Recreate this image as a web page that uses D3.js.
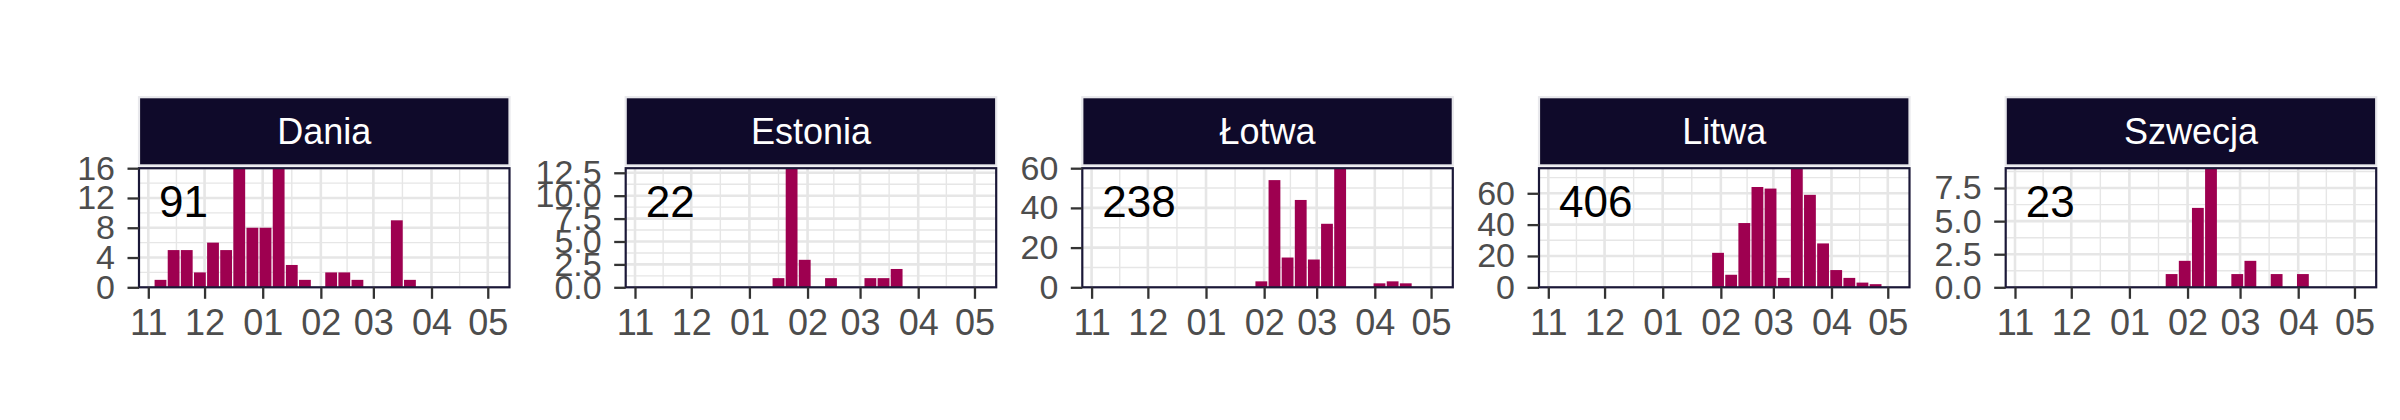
<!DOCTYPE html>
<html><head><meta charset="utf-8">
<script src="https://cdn.jsdelivr.net/npm/d3@7/dist/d3.min.js"></script>
<style>
html,body{margin:0;padding:0;background:#fff;}
svg text{font-family:"Liberation Sans", Arial, Helvetica, sans-serif;}
</style></head><body>
<svg id="chart" width="2400" height="420"></svg>
<script>
// ---- data ----
const countries = ["Dania", "Estonia", "Łotwa", "Litwa", "Szwecja"];
const totals = [91, 22, 238, 406, 23];
const weeks = ["2022-11-07","2022-11-14","2022-11-21","2022-11-28","2022-12-05","2022-12-12",
  "2022-12-19","2022-12-26","2023-01-02","2023-01-09","2023-01-16","2023-01-23","2023-01-30",
  "2023-02-06","2023-02-13","2023-02-20","2023-02-27","2023-03-06","2023-03-13","2023-03-20",
  "2023-03-27","2023-04-03","2023-04-10","2023-04-17","2023-04-24"];
const dania   = [1,5,5,2,6,5,16,8,8,16,3,1,0,2,2,1,0,0,9,1,0,0,0,0,0];
const estonia = [0,0,0,0,0,0,0,0,0,0,1,13,3,0,1,0,0,1,1,2,0,0,0,0,0];
const lotwa   = [0,0,0,0,0,0,0,0,0,0,0,0,3,54,15,44,14,32,60,0,0,2,3,2,0];
const litwa   = [0,0,0,0,0,0,0,0,0,0,0,0,22,8,41,64,63,6,76,59,28,11,6,3,2];
const szwecja = [0,0,0,0,0,0,0,0,0,0,0,1,2,6,9,0,1,2,0,1,0,1,0,0,0];
const yTicksDania   = [0,4,8,12,16];
const yTicksEstonia = [0,2.5,5,7.5,10,12.5];
const yTicksLotwa   = [0,20,40,60];
const yTicksLitwa   = [0,20,40,60];
const yTicksSzwecja = [0,2.5,5,7.5];
const monthTicks = ["2022-11-01","2022-12-01","2023-01-01","2023-02-01","2023-03-01","2023-04-01","2023-05-01"];
const xDomain = ["2022-10-27T01:00:00Z","2023-05-12T14:00:00Z"];

// ---- layout / style ----
const series = [dania, estonia, lotwa, litwa, szwecja];
const yTickSets = [yTicksDania, yTicksEstonia, yTicksLotwa, yTicksLitwa, yTicksSzwecja];
const decimalY = [false, true, false, false, true];
const panelLefts = [139, 625.7, 1082.3, 1539, 2005.7];
const PW = 370.5, TOP = 168.2, BOT = 287.3;
const STRIP_TOP = 97.2, STRIP_BOT = 165.4;
const BAR = "#9E0050", STRIP = "#0F0A2A", BORDER = "#1B1838", GRID = "#E6E6E6";
const DAY = 864e5;

const svg = d3.select("#chart");
const parse = d3.utcParse("%Y-%m-%d");
const weekDates = weeks.map(parse);
const majorX = monthTicks.map(parse);
const x = d3.scaleUtc().domain(xDomain.map(d => new Date(d))).range([0, PW]);
const barW = x(new Date(x.domain()[0].getTime() + 6.3 * DAY)) - x(x.domain()[0]);
const minorX = d3.pairs(majorX).map(([a, b]) => new Date((a.getTime() + b.getTime()) / 2));

series.forEach((vals, i) => {
  const L = panelLefts[i];
  const g = svg.append("g").attr("transform", `translate(${L},0)`);
  const y = d3.scaleLinear().domain([0, d3.max(vals)]).range([BOT, TOP]);
  const majY = yTickSets[i];
  const step = majY[1] - majY[0];
  const minY = majY.map(v => v + step / 2).filter(v => v < d3.max(vals));

  const clipId = "clip" + i;
  g.append("clipPath").attr("id", clipId).append("rect")
    .attr("x", 0).attr("y", TOP).attr("width", PW).attr("height", BOT - TOP);
  const pg = g.append("g").attr("clip-path", `url(#${clipId})`);
  pg.append("rect").attr("x", 0).attr("y", TOP).attr("width", PW).attr("height", BOT - TOP).attr("fill", "#fff");

  // minor grid
  pg.selectAll(".mx").data(minorX).join("line")
    .attr("x1", d => x(d)).attr("x2", d => x(d)).attr("y1", TOP).attr("y2", BOT)
    .attr("stroke", GRID).attr("stroke-width", 1.4);
  pg.selectAll(".my").data(minY).join("line")
    .attr("x1", 0).attr("x2", PW).attr("y1", d => y(d)).attr("y2", d => y(d))
    .attr("stroke", GRID).attr("stroke-width", 1.4);
  // major grid
  pg.selectAll(".Mx").data(majorX).join("line")
    .attr("x1", d => x(d)).attr("x2", d => x(d)).attr("y1", TOP).attr("y2", BOT)
    .attr("stroke", GRID).attr("stroke-width", 2.6);
  pg.selectAll(".My").data(majY).join("line")
    .attr("x1", 0).attr("x2", PW).attr("y1", d => y(d)).attr("y2", d => y(d))
    .attr("stroke", GRID).attr("stroke-width", 2.6);

  // bars
  const rows = weekDates.map((d, k) => ({ d, v: vals[k] })).filter(r => r.v > 0);
  pg.selectAll(".bar").data(rows).join("rect")
    .attr("x", r => x(new Date(r.d.getTime() + 0.5 * DAY)) - barW / 2)
    .attr("width", barW)
    .attr("y", r => y(r.v))
    .attr("height", r => y(0) - y(r.v))
    .attr("fill", BAR);

  // count label
  g.append("text").attr("x", 20).attr("y", 216.5)
    .attr("font-size", 44).attr("fill", "#000").text(totals[i]);

  // panel border
  g.append("rect").attr("x", 0).attr("y", TOP).attr("width", PW).attr("height", BOT - TOP)
    .attr("fill", "none").attr("stroke", BORDER).attr("stroke-width", 2.2);

  // strip
  g.append("rect").attr("x", 0).attr("y", STRIP_TOP).attr("width", PW).attr("height", STRIP_BOT - STRIP_TOP)
    .attr("fill", STRIP).attr("stroke", "#E8E8EC").attr("stroke-width", 2.2);
  g.append("text").attr("x", PW / 2).attr("y", 144).attr("text-anchor", "middle")
    .attr("font-size", 36).attr("fill", "#fff").text(countries[i]);

  // axes
  const fmt = decimalY[i] ? d3.format(".1f") : d3.format("d");
  const ya = g.append("g").call(d3.axisLeft(y).tickValues(majY).tickFormat(fmt).tickSize(11.5).tickPadding(12.5));
  const xa = g.append("g").attr("transform", `translate(0,${BOT})`)
    .call(d3.axisBottom(x).tickValues(majorX).tickFormat(d3.utcFormat("%m")).tickSize(11.5).tickPadding(10.5));
  [ya, xa].forEach((a, k) => {
    a.select(".domain").remove();
    a.selectAll(".tick line").attr("stroke", "#333333").attr("stroke-width", 2.3);
    a.selectAll(".tick text").attr("fill", "#4D4D4D").attr("font-size", k === 0 ? 34 : 36)
      .attr("font-family", '"Liberation Sans", Arial, sans-serif');
  });
});
</script>
</body></html>
